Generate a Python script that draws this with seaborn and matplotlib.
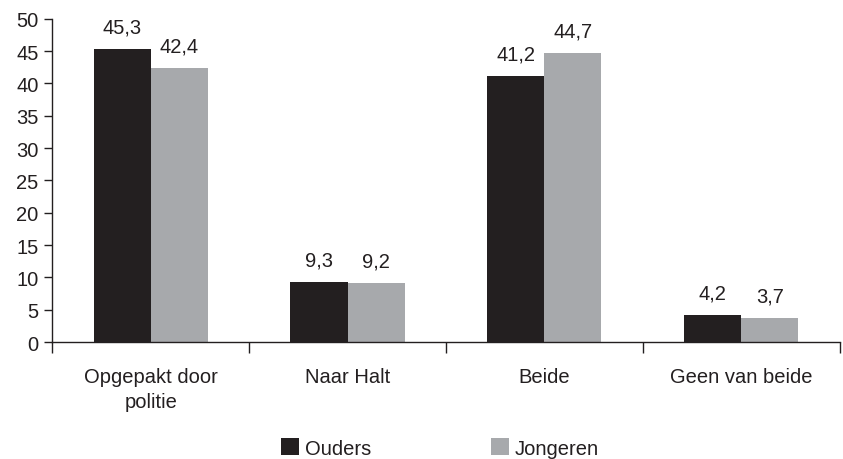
import matplotlib
matplotlib.use("Agg")
import matplotlib.pyplot as plt
import seaborn as sns
import pandas as pd
from matplotlib.patches import Patch

categories = ["Opgepakt door\npolitie", "Naar Halt", "Beide", "Geen van beide"]
ouders = [45.3, 9.3, 41.2, 4.2]
jongeren = [42.4, 9.2, 44.7, 3.7]
series = ["Ouders", "Jongeren"]
colors = ["#231f20", "#a7a9ac"]

df = pd.DataFrame({
    "cat": categories * 2,
    "val": ouders + jongeren,
    "serie": [series[0]] * 4 + [series[1]] * 4,
})

sns.set_style("white")
plt.rcParams["font.family"] = ["Liberation Sans", "DejaVu Sans"]
FS = 14.5

fig = plt.figure(figsize=(8.43, 4.6), dpi=100)
ax = fig.add_axes([0.062, 0.254, 0.934, 0.703])
sns.barplot(data=df, x="cat", y="val", hue="serie", palette=colors,
            width=0.58, ax=ax, legend=False, saturation=1, linewidth=0)

for cont in ax.containers:
    ax.bar_label(cont, labels=[f"{v:.1f}".replace(".", ",") for v in cont.datavalues],
                 padding=9, fontsize=FS, color="#231f20")

ax.set_xlim(-0.5, 3.5)
ax.set_ylim(0, 50)
ax.set_yticks(range(0, 51, 5))
ax.set_xlabel("")
ax.set_ylabel("")
ax.set_xticks([-0.5, 0.5, 1.5, 2.5, 3.5], minor=True)
ax.tick_params(axis="x", which="major", length=0, pad=18, labelsize=FS, labelcolor="#231f20")
ax.tick_params(axis="x", which="minor", length=8, width=1, color="#231f20", direction="out", bottom=True)
ax.tick_params(axis="y", length=6, width=1, color="#231f20", direction="out", left=True, labelsize=FS, labelcolor="#231f20", pad=4)
for lbl in ax.get_xticklabels():
    lbl.set_linespacing(1.4)
for s in ["top", "right"]:
    ax.spines[s].set_visible(False)
for s in ["left", "bottom"]:
    ax.spines[s].set_color("#231f20")
    ax.spines[s].set_linewidth(1)

handles = [Patch(facecolor=c, edgecolor="none") for c in colors]
fig.legend(handles, series, loc="center", bbox_to_anchor=(0.522, 0.024), ncol=2,
           frameon=False, fontsize=FS, handlelength=0.9, handleheight=0.9,
           columnspacing=5.9, handletextpad=0.3, labelcolor="#231f20")

fig.savefig("out.png", dpi=100)
